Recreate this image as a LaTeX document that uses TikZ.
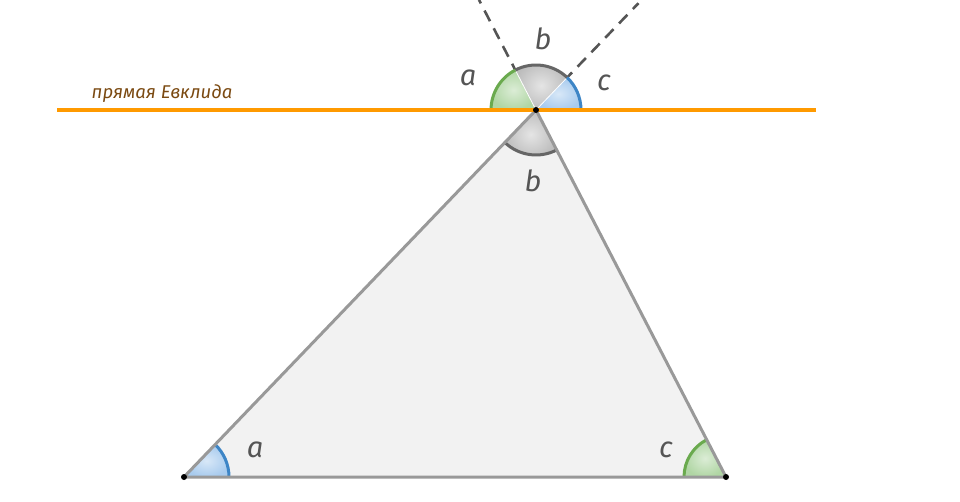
\documentclass[tikz,border=0pt]{standalone}
\usepackage{fontspec}
\setmainfont{Fira Sans}
\usetikzlibrary{calc}
\definecolor{trifill}{HTML}{F2F2F2}
\definecolor{triedge}{HTML}{999999}
\definecolor{orangeline}{HTML}{FF9A00}
\definecolor{greenedge}{HTML}{6AAA4E}
\definecolor{greenfill}{HTML}{B0D6A4}
\definecolor{blueedge}{HTML}{3D85C6}
\definecolor{bluefill}{HTML}{A8CBEE}
\definecolor{grayedge}{HTML}{666666}
\definecolor{grayfill}{HTML}{BDBDBD}
\definecolor{dashcol}{HTML}{555555}
\definecolor{labcol}{HTML}{555555}
\definecolor{brown}{HTML}{7B4A12}
\tikzset{
  trianglestyle/.style={draw=triedge, line width=3pt, line join=round},
  greensec/.style={inner color=greenfill!45!white, outer color=greenfill},
  bluesec/.style={inner color=bluefill!45!white, outer color=bluefill},
  graysec/.style={inner color=grayfill!40!white, outer color=grayfill},
  greenarc/.style={draw=greenedge, line width=3pt},
  bluearc/.style={draw=blueedge, line width=3pt},
  grayarc/.style={draw=grayedge, line width=3pt},
  extline/.style={draw=dashcol, line width=2.6pt, dash pattern=on 12pt off 8pt},
  letter/.style={text=labcol, font=\fontsize{29}{31}\selectfont\itshape, inner sep=0pt},
  dotstyle/.style={fill=black, circle, inner sep=0pt, minimum size=6pt}
}
\begin{document}
\begin{tikzpicture}[x=1pt,y=1pt]
\useasboundingbox (0,0) rectangle (960,501);
\coordinate (A) at (184,24);
\coordinate (B) at (536,391);
\coordinate (C) at (726,24);
\coordinate (L) at (57,391);
\coordinate (R) at (816,391);
\coordinate (UL) at ($(B)+(117.37:124)$);
\coordinate (UR) at ($(B)+(46.19:148)$);
% triangle fill
\fill[trifill] (A) -- (B) -- (C) -- cycle;
% angle at A
\shade[bluesec] (A) -- ++(0:45) arc[start angle=0, end angle=46.19, radius=45] -- cycle;
\draw[bluearc] ($(A)+(0:45)$) arc[start angle=0, end angle=46.19, radius=45];
% angle at C
\shade[greensec] (C) -- ++(117.37:42) arc[start angle=117.37, end angle=180, radius=42] -- cycle;
\draw[greenarc] ($(C)+(117.37:42)$) arc[start angle=117.37, end angle=180, radius=42];
% angle at B (inside)
\shade[graysec] (B) -- ++(226.19:45) arc[start angle=226.19, end angle=297.37, radius=45] -- cycle;
\draw[grayarc] ($(B)+(226.19:45)$) arc[start angle=226.19, end angle=297.37, radius=45];
% triangle outline
\draw[trianglestyle] (A) -- (B) -- (C) -- cycle;
% dashed extensions
\draw[extline] (B) -- (UL);
\draw[extline] (B) -- (UR);
% top sectors
\shade[greensec] (B) -- ++(117.37:45) arc[start angle=117.37, end angle=180, radius=45] -- cycle;
\shade[graysec] (B) -- ++(46.19:45) arc[start angle=46.19, end angle=117.37, radius=45] -- cycle;
\shade[bluesec] (B) -- ++(0:45) arc[start angle=0, end angle=46.19, radius=45] -- cycle;
\draw[white, line width=0.8pt] (B) -- ++(117.37:45);
\draw[white, line width=0.8pt] (B) -- ++(46.19:45);
\draw[greenarc] ($(B)+(117.37:45)$) arc[start angle=117.37, end angle=180, radius=45];
\draw[grayarc] ($(B)+(46.19:45)$) arc[start angle=46.19, end angle=117.37, radius=45];
\draw[bluearc] ($(B)+(0:45)$) arc[start angle=0, end angle=46.19, radius=45];
% Euclid line
\draw[orangeline, line width=4pt] (L) -- (R);
% dots
\node[dotstyle] (dA) at (A) {};
\node[dotstyle] (dB) at (B) {};
\node[dotstyle] (dC) at (C) {};
% labels
\node[text=brown, font=\fontsize{18.5}{20}\selectfont\itshape, inner sep=0pt] (euc) at (162,407) {прямая Евклида};
\node[letter] (ta) at (468,423) {a};
\node[letter] (tb) at (543,462) {b};
\node[letter] (tc) at (604,418) {c};
\node[letter] (bb) at (533,320) {b};
\node[letter] (la) at (255,51) {a};
\node[letter] (lc) at (666,51) {c};
\end{tikzpicture}
\end{document}
